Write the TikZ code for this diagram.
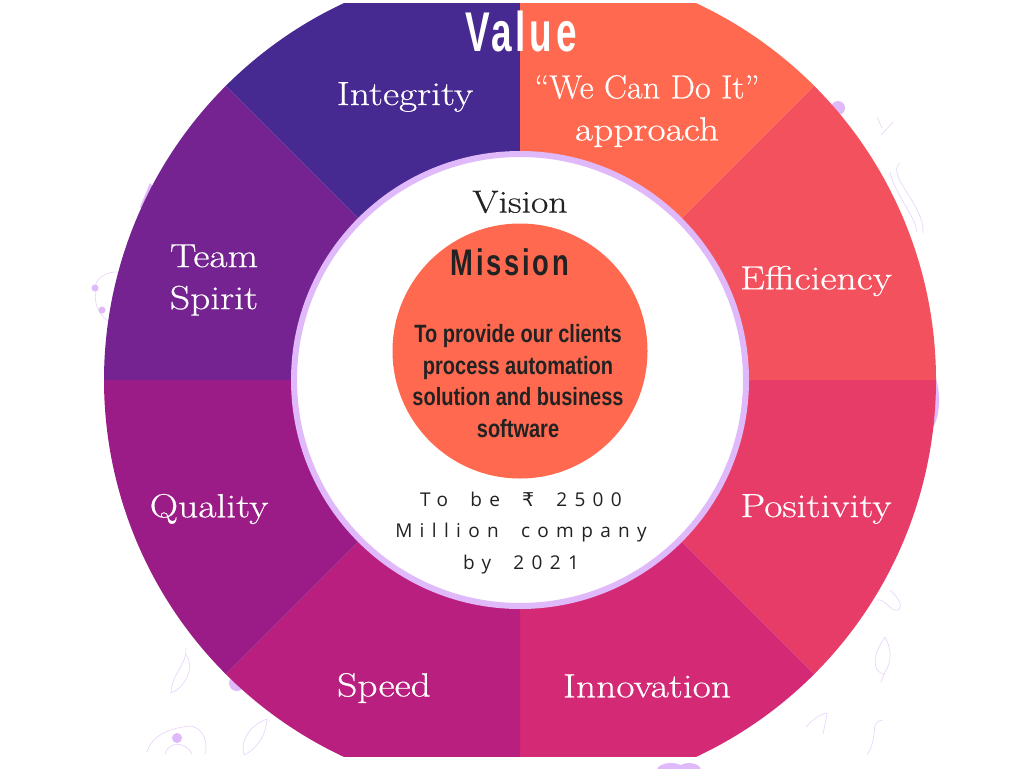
\documentclass[tikz,border=0pt]{standalone}
\usepackage{fontspec}
\usepackage{graphicx}
\usetikzlibrary{positioning}
\newfontfamily\wheelfont[FakeStretch=1.18,FakeBold=0.5]{Latin Modern Roman}
\newfontfamily\visionfont[LetterSpace=38.7,WordSpace=1.8]{Open Sans}
\newfontfamily\rupeefont{DejaVu Sans}
\newfontfamily\headfont[LetterSpace=10]{Liberation Sans}
\newfontfamily\bodyfont{Liberation Sans}
\newcommand{\narrow}[2][0.65]{\scalebox{#1}[1]{#2}}
\definecolor{segA}{HTML}{FF6950}
\definecolor{segB}{HTML}{F4515E}
\definecolor{segC}{HTML}{E73B68}
\definecolor{segD}{HTML}{D42A76}
\definecolor{segE}{HTML}{B91F7E}
\definecolor{segF}{HTML}{9C1C87}
\definecolor{segG}{HTML}{742391}
\definecolor{segH}{HTML}{472992}
\definecolor{ringc}{HTML}{DFB9FA}
\definecolor{inkc}{HTML}{222222}
\definecolor{leafc}{HTML}{E8D2FB}
\tikzset{
  seglabel/.style = {text = white, align = center, font = \wheelfont\fontsize{33.5}{42}\selectfont},
  leaf/.style = {draw = leafc, line width = 0.6pt}
}
\begin{document}
\begin{tikzpicture}[x=1pt,y=-1pt]
  \useasboundingbox (0,0) rectangle (1024,768);
  \fill[white] (0,0) rectangle (1024,768);
  % leaves and flowers round the wheel
  \draw[leaf] (171,693) .. controls (172,672) and (186,668) .. (186,648);
  \draw[leaf] (171,693) .. controls (184,688) and (196,668) .. (186,655);
  \draw[leaf] (244,755) .. controls (240,738) and (252,724) .. (267,719) .. controls (266,735) and (258,748) .. (244,755);
  \draw[leaf] (147,752) .. controls (152,735) and (170,728) .. (190,726) .. controls (205,728) and (208,745) .. (205,754);
  \draw[leaf] (165,754) .. controls (168,742) and (185,740) .. (192,754);
  \fill[ringc] (177,738) circle (5);
  \draw[leaf] (885,637) .. controls (872,655) and (872,672) .. (884,674) .. controls (892,662) and (892,650) .. (885,637);
  \draw[leaf] (884,674) -- (881,682);
  \draw[leaf] (806,727) .. controls (812,720) and (820,714) .. (827,713) .. controls (826,722) and (824,728) .. (823,734);
  \draw[leaf] (883,720) .. controls (868,722) and (880,735) .. (867,755);
  \draw[leaf] (877,600) .. controls (885,598) and (890,612) .. (898,610) .. controls (905,605) and (895,595) .. (890,590);
  \draw[leaf] (877,117) -- (882,128) (893,122) -- (881,135);
  \draw[leaf] (900,163) .. controls (885,175) and (925,205) .. (923,233);
  \draw[leaf] (890,172) .. controls (895,195) and (915,215) .. (917,232);
  \draw[leaf] (117,272) .. controls (100,272) and (92,285) .. (96,292) .. controls (92,305) and (105,325) .. (115,322);
  \fill[ringc] (95,288) circle (3.5) (102,310) circle (3.5);
  % lilac patches behind the wheel
  \fill[ringc] (838,108) circle (7);
  \fill[ringc] (237,683) circle (8);
  \fill[ringc] (927,400) ellipse (12 and 32);
  \fill[ringc] (140,207) -- (150,183) -- (156,190) -- (146,212) -- cycle;
  \fill[ringc] (671,770) ellipse (14 and 7) (689,770) ellipse (12 and 7);
  % clipped wheel
  \begin{scope}
    \clip (0,4) rectangle (1024,756);
    \foreach \a/\b/\c in {0/45/segC,45/90/segD,90/135/segE,135/180/segF,
                          180/225/segG,225/270/segH,270/315/segA,315/360/segB}
      \fill[\c] (520,380) -- ++(\a:416) arc[start angle=\a, end angle=\b, radius=416] -- cycle;
  \end{scope}
  \node[circle, fill = white, draw = ringc, line width = 6pt, minimum size = 452pt, inner sep = 0pt] (hub) at (520,380) {};
  \node[circle, fill = segA, minimum size = 255pt, inner sep = 0pt] (core) at (520,351) {};
  % value ring labels
  \node[text = white, font = \headfont\bfseries\fontsize{56}{56}\selectfont] (value) at (521,31) {\narrow[0.66]{Value}};
  \node[seglabel] (integrity) at (405,97) {Integrity};
  \node[seglabel] (approach) at (647,111) {\narrow[0.87]{“We Can Do It”}\\approach};
  \node[seglabel] (efficiency) at (816,281) {Efficiency};
  \node[seglabel] (positivity) at (816,509) {Positivity};
  \node[seglabel] (innovation) at (647,686) {Innovation};
  \node[seglabel] (speed) at (384,688) {Speed};
  \node[seglabel] (quality) at (209,509) {Quality};
  \node[seglabel] (spirit) at (214,280) {Team\\Spirit};
  % hub texts
  \node[text = inkc, font = \wheelfont\fontsize{32}{36}\selectfont] (vision) at (520,202) {Vision};
  \node[text = inkc, font = \headfont\bfseries\fontsize{37}{37}\selectfont] (mission) at (510,262) {\narrow[0.74]{Mission}};
  \node[text = inkc, align = center, font = \bodyfont\bfseries\fontsize{25}{31.5}\selectfont] (missiontext) at (518,381)
    {\narrow[0.8]{To provide our clients}\\\narrow[0.8]{process automation}\\\narrow[0.8]{solution and business}\\\narrow[0.8]{software}};
  \node[text = inkc, align = center, font = \visionfont\fontsize{19}{31.5}\selectfont] (visiontext) at (521,533)
    {To be {\rupeefont ₹} 2500\\Million company\\by 2021};
\end{tikzpicture}
\end{document}
